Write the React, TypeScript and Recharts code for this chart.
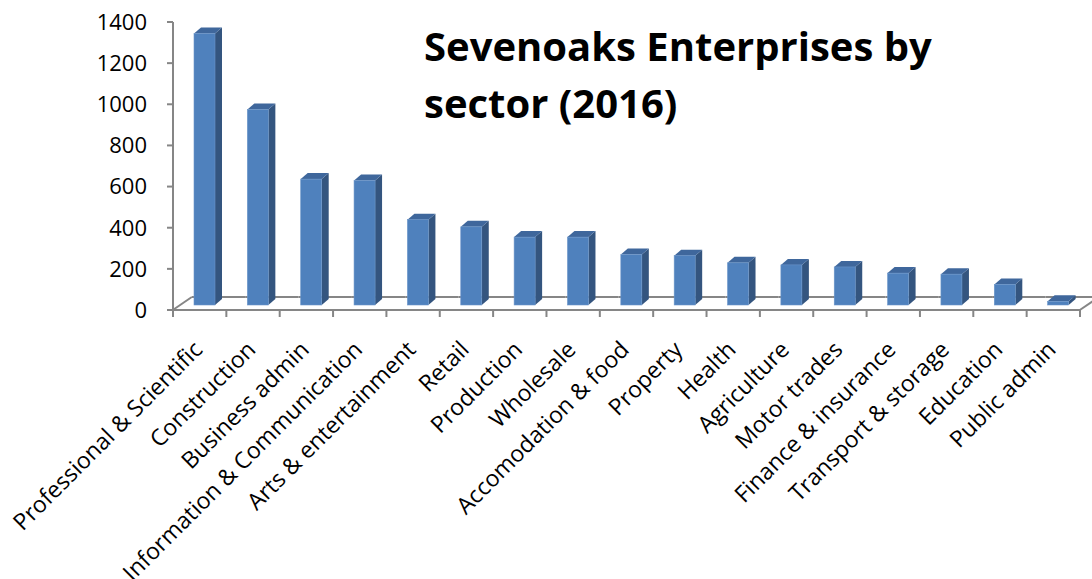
import React from 'react'
import { BarChart, Bar, XAxis, YAxis } from 'recharts'

const sectors = [
  'Professional & Scientific', 'Construction', 'Business admin', 'Information & Communication',
  'Arts & entertainment', 'Retail', 'Production', 'Wholesale', 'Accomodation & food', 'Property',
  'Health', 'Agriculture', 'Motor trades', 'Finance & insurance', 'Transport & storage',
  'Education', 'Public admin',
]
const enterprises = [1320, 950, 612, 605, 415, 380, 330, 330, 245, 240, 205, 195, 185, 155, 150, 100, 18]
const yTicks = [0, 200, 400, 600, 800, 1000, 1200, 1400]

const W = 1092
const H = 579
const PLOT_LEFT = 173
const PLOT_RIGHT = 12
const PLOT_TOP = 22
const PLOT_BOTTOM = 310
const BAND = (W - PLOT_LEFT - PLOT_RIGHT) / sectors.length
const GRAY = '#868686'
const FONT = '"Open Sans", sans-serif'

// 3d depth of bars / floor
const DX = 7, DY = 6
const FLOOR_DX = 19, FLOOR_DY = 13

const data = sectors.map((name, i) => ({ name, value: enterprises[i] }))

function Bar3D(props: any) {
  const { x, y, width, height } = props
  if (height == null || width == null) return null
  const fx = x + 5
  const fy = y - 5
  const side = `${fx + width},${fy} ${fx + width + DX},${fy - DY} ${fx + width + DX},${fy + height - DY} ${fx + width},${fy + height}`
  const top = `${fx},${fy} ${fx + DX},${fy - DY} ${fx + width + DX},${fy - DY} ${fx + width},${fy}`
  return (
    <g>
      <polygon points={side} fill="#34557f" />
      <polygon points={top} fill="#3f679c" />
      <rect x={fx} y={fy} width={width} height={height} fill="#4f81bd" stroke="#6b95c9" strokeWidth={0.6} />
    </g>
  )
}

function Floor(props: any) {
  const { x, y, width, height, index } = props
  const bottom = y + height
  const start = x + width / 2 - BAND / 2
  const last = index === sectors.length - 1
  return (
    <g stroke={GRAY} strokeWidth={2} fill="none">
      <line x1={start + FLOOR_DX} y1={bottom - FLOOR_DY} x2={start + BAND + FLOOR_DX} y2={bottom - FLOOR_DY} />
      {index === 0 && <line x1={start} y1={bottom} x2={start + FLOOR_DX} y2={bottom - FLOOR_DY} />}
      {last && <line x1={start + BAND} y1={bottom} x2={start + BAND + FLOOR_DX} y2={bottom - FLOOR_DY} />}
    </g>
  )
}

function SectorTick(props: any) {
  const { x, y, payload, index } = props
  const start = x - BAND / 2
  const last = index === sectors.length - 1
  const lx = x + 4
  const ly = y + 41
  return (
    <g>
      <line x1={start} y1={y} x2={start} y2={y + 7} stroke={GRAY} strokeWidth={2} />
      {last && <line x1={start + BAND} y1={y} x2={start + BAND} y2={y + 7} stroke={GRAY} strokeWidth={2} />}
      <text
        x={lx}
        y={ly}
        textAnchor="end"
        transform={`rotate(-45 ${lx} ${ly})`}
        fontSize={23}
        fontFamily={FONT}
        fill="#000"
      >
        {payload.value}
      </text>
    </g>
  )
}

export default function App() {
  return (
    <div style={{ position: 'absolute', left: 0, top: 0, width: W, height: H, background: '#fff' }}>
      <BarChart
        width={W}
        height={H}
        data={data}
        margin={{ top: PLOT_TOP, right: PLOT_RIGHT, left: 0, bottom: 0 }}
        barSize={21}
      >
        <XAxis
          dataKey="name"
          interval={0}
          height={H - PLOT_BOTTOM}
          axisLine={{ stroke: GRAY, strokeWidth: 2 }}
          tickLine={false}
          tickSize={0}
          tickMargin={0}
          tick={<SectorTick />}
        />
        <YAxis
          width={PLOT_LEFT}
          domain={[0, 1400]}
          ticks={yTicks}
          interval={0}
          axisLine={{ stroke: GRAY, strokeWidth: 2 }}
          tickLine={{ stroke: GRAY, strokeWidth: 2 }}
          tickSize={6}
          tickMargin={20}
          tick={{ fill: '#000', fontSize: 22, fontFamily: FONT }}
        />
        <Bar dataKey="value" isAnimationActive={false} shape={<Bar3D />} background={<Floor />} />
      </BarChart>
      <div
        style={{
          position: 'absolute',
          left: 424,
          top: 17,
          fontFamily: FONT,
          fontWeight: 700,
          fontSize: 40,
          lineHeight: '57px',
          color: '#000',
        }}
      >
        Sevenoaks Enterprises by
        <br />
        sector (2016)
      </div>
    </div>
  )
}
